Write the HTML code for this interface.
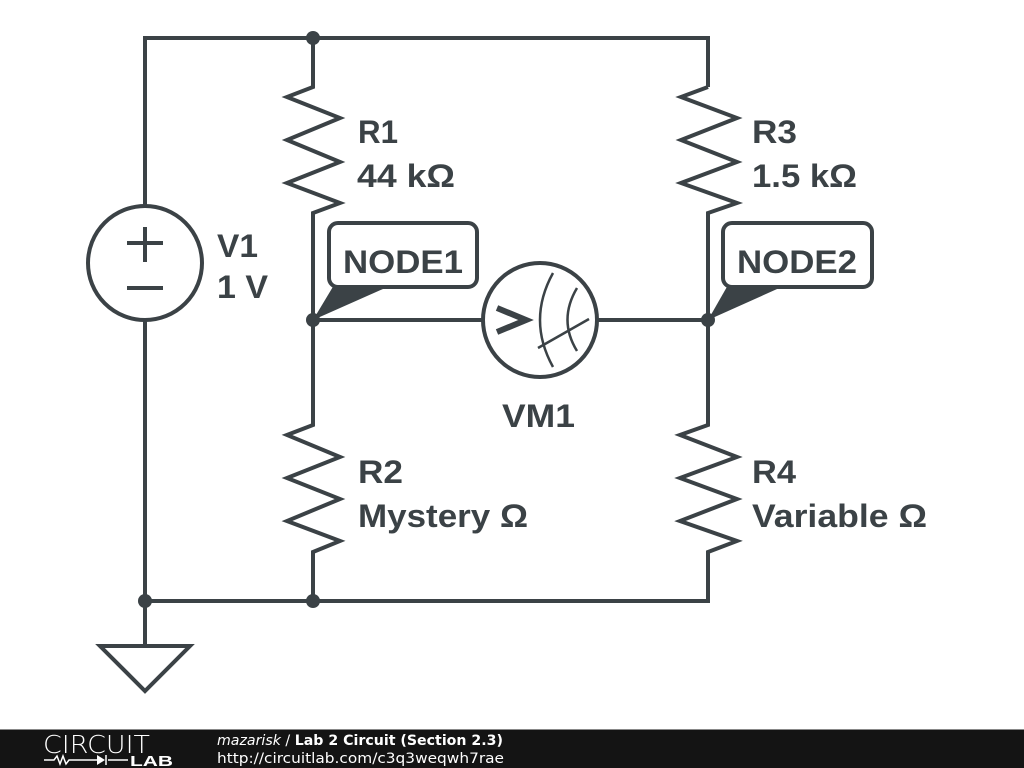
<!DOCTYPE html>
<html><head><meta charset="utf-8"><style>
html,body{margin:0;padding:0;background:#fff;}
svg{display:block;}
</style></head><body>
<svg width="1024" height="768" viewBox="0 0 1024 768" xmlns="http://www.w3.org/2000/svg">
<rect width="1024" height="768" fill="#fff"/>
<g stroke="#3b4246" stroke-width="4" fill="none" stroke-linejoin="miter">
  <polyline points="145,205 145,38 708,38 708,87"/>
  <polyline points="313,38 313,87 287,97 340,118 287,140 340,162 287,183 340,203 313,213 313,425 287,435 340,457 287,478 340,499 287,521 340,541 313,552 313,601"/>
  <polyline points="708,87 681,97 737,118 681,140 737,162 681,183 737,203 708,213 708,425 680,435 737,457 680,478 737,499 680,521 737,541 708,552 708,601 145,601 145,321"/>
  <circle cx="145" cy="263" r="57"/>
  <line x1="127" y1="243" x2="163" y2="243"/>
  <line x1="145" y1="227" x2="145" y2="262"/>
  <line x1="127" y1="288" x2="163" y2="288"/>
  <line x1="145" y1="601" x2="145" y2="646"/>
  <polygon points="100,646 190,646 145,691"/>
  <line x1="313" y1="320" x2="483" y2="320"/>
  <line x1="597" y1="320" x2="708" y2="320"/>
  <circle cx="540" cy="320" r="57"/>
  <polyline points="497,308 526,320 497,332" stroke-width="6"/>
  <path d="M553,273 Q527,320 553,367" stroke-width="2.5"/>
  <path d="M577,288 Q558,320 577,351" stroke-width="2.5"/>
  <line x1="538" y1="348" x2="589" y2="319" stroke-width="2.5"/>
  <rect x="329" y="223" width="148" height="64" rx="9"/>
  <rect x="723" y="223" width="149" height="64" rx="9"/>
</g>
<g fill="#3b4246">
  <polygon points="334,285 392,285 313,320"/>
  <polygon points="728,285 786,285 708,320"/>
  <circle cx="313" cy="38" r="7"/>
  <circle cx="313" cy="320" r="7"/>
  <circle cx="708" cy="320" r="7"/>
  <circle cx="313" cy="601" r="7"/>
  <circle cx="145" cy="601" r="7"/>
</g>
<g fill="#3b4246" font-family="Liberation Sans, Arial, sans-serif" font-weight="bold" font-size="32">
  <text x="358" y="143" textLength="40" lengthAdjust="spacingAndGlyphs">R1</text>
  <text x="357" y="187" textLength="98" lengthAdjust="spacingAndGlyphs">44 kΩ</text>
  <text x="752" y="143" textLength="45" lengthAdjust="spacingAndGlyphs">R3</text>
  <text x="752" y="187" textLength="105" lengthAdjust="spacingAndGlyphs">1.5 kΩ</text>
  <text x="217" y="257" textLength="41" lengthAdjust="spacingAndGlyphs">V1</text>
  <text x="217" y="298" textLength="51" lengthAdjust="spacingAndGlyphs">1 V</text>
  <text x="343" y="273" textLength="120" lengthAdjust="spacingAndGlyphs">NODE1</text>
  <text x="737" y="273" textLength="120" lengthAdjust="spacingAndGlyphs">NODE2</text>
  <text x="502" y="427" textLength="73" lengthAdjust="spacingAndGlyphs">VM1</text>
  <text x="358" y="483" textLength="45" lengthAdjust="spacingAndGlyphs">R2</text>
  <text x="358" y="527" textLength="170" lengthAdjust="spacingAndGlyphs">Mystery Ω</text>
  <text x="752" y="483" textLength="44" lengthAdjust="spacingAndGlyphs">R4</text>
  <text x="752" y="527" textLength="175" lengthAdjust="spacingAndGlyphs">Variable Ω</text>
</g>
<rect x="0" y="729" width="1024" height="39" fill="#141414"/>
<line x1="0" y1="729.5" x2="1024" y2="729.5" stroke="#888" stroke-width="1"/>
<text x="43" y="753" fill="#fff" font-family="DejaVu Sans, sans-serif" font-size="25" style="font-weight:200" textLength="107" lengthAdjust="spacingAndGlyphs">CIRCUIT</text>
<g stroke="#fff" stroke-width="1.5" fill="none">
  <polyline points="44,760 54,760 57,756 60,764 63,756 66,764 69,760 97,760"/>
  <line x1="108" y1="760" x2="128" y2="760"/>
  <line x1="106" y1="755" x2="106" y2="765"/>
</g>
<polygon points="97,755 97,765 105,760" fill="#fff"/>
<text x="130" y="766" fill="#fff" font-family="Liberation Sans, sans-serif" font-size="15" font-weight="bold" textLength="43" lengthAdjust="spacingAndGlyphs">LAB</text>
<text x="217" y="745" fill="#fff" font-family="DejaVu Sans, sans-serif" font-size="14" textLength="286" lengthAdjust="spacingAndGlyphs"><tspan font-style="italic">mazarisk</tspan> / <tspan font-weight="bold">Lab 2 Circuit (Section 2.3)</tspan></text>
<text x="217" y="763" fill="#fff" font-family="DejaVu Sans, sans-serif" font-size="14" textLength="287" lengthAdjust="spacingAndGlyphs">http://circuitlab.com/c3q3weqwh7rae</text>
</svg>
</body></html>
